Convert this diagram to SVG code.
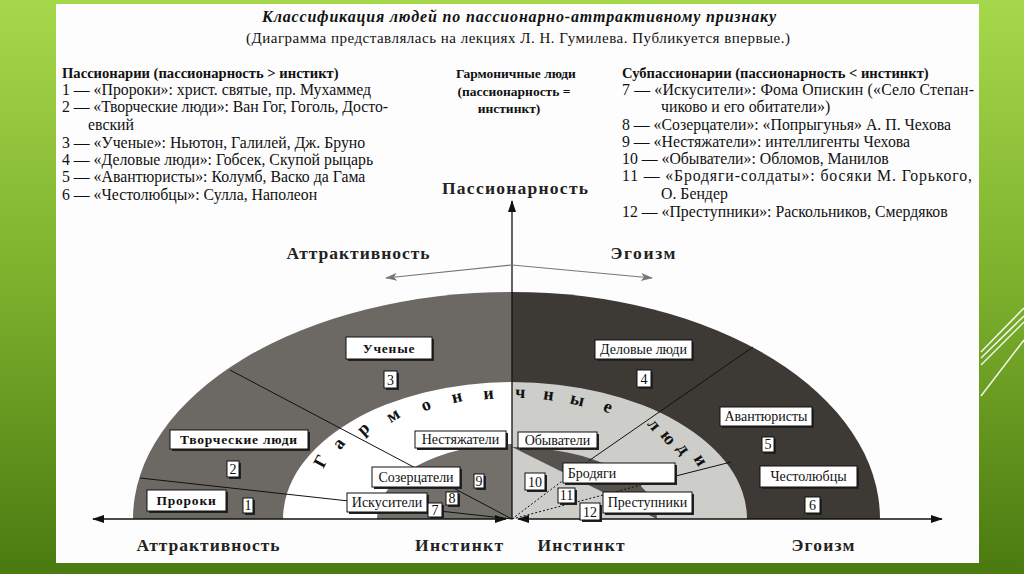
<svg xmlns="http://www.w3.org/2000/svg" width="1024" height="574" viewBox="0 0 1024 574">
<defs>
<linearGradient id="bg" x1="0" y1="0" x2="0" y2="1">
<stop offset="0" stop-color="#a6d84b"/>
<stop offset="0.5" stop-color="#7cb02c"/>
<stop offset="1" stop-color="#4a7a10"/>
</linearGradient>
<marker id="ah" viewBox="0 0 12 8" refX="11" refY="4" markerWidth="12" markerHeight="8" markerUnits="userSpaceOnUse" orient="auto-start-reverse">
<path d="M0,0 L12,4 L0,8 Z" fill="#111"/>
</marker>
<marker id="ahg" viewBox="0 0 12 8" refX="11" refY="4" markerWidth="13" markerHeight="8" markerUnits="userSpaceOnUse" orient="auto">
<path d="M0,0 L12,4 L0,8 L3,4 Z" fill="#777"/>
</marker>
<style>
.t{font-family:"Liberation Serif","Times New Roman",serif;fill:#111}
.h{font-weight:bold}
.it{font-size:15.8px}
.hd{font-size:14.6px;font-weight:bold}
.ax{font-family:"Liberation Serif","Times New Roman",serif;font-size:17.5px;font-weight:bold;fill:#222}
.bx{fill:#fff;stroke:#111;stroke-width:1}
.sh{fill:#222}
.bt{font-family:"Liberation Serif","Times New Roman",serif;font-size:14px;fill:#111;text-anchor:middle}
.bb{font-weight:bold;font-size:13.5px;letter-spacing:0.8px}
.gl{font-family:"Liberation Serif","Times New Roman",serif;font-size:18px;font-weight:bold;fill:#111;text-anchor:middle}
.dv{stroke:#111;stroke-width:1;fill:none}
.dt{stroke:#111;stroke-width:1;fill:none;stroke-dasharray:2 2}
.axl{stroke:#111;stroke-width:1.3;fill:none}
.gr{stroke:#777;stroke-width:1.2;fill:none}
</style>
</defs>
<rect x="0" y="0" width="1024" height="574" fill="url(#bg)"/>
<g stroke="#fff" stroke-width="1.5" fill="none" opacity="0.9">
<line x1="981" y1="352" x2="1024" y2="308"/>
<line x1="981" y1="358" x2="1024" y2="316"/>
<line x1="981" y1="365" x2="1024" y2="322"/>
<line x1="981" y1="396" x2="1024" y2="340"/>
</g>
<rect x="56" y="4" width="923" height="559" fill="#fdfdfd"/>

<g id="header">
<text class="t h" x="519" y="22" font-size="16" font-style="italic" text-anchor="middle" textLength="514" lengthAdjust="spacing">Классификация людей по пассионарно-аттрактивному признаку</text>
<text class="t" x="518" y="43" font-size="15" text-anchor="middle" textLength="544" lengthAdjust="spacing">(Диаграмма представлялась на лекциях Л. Н. Гумилева. Публикуется впервые.)</text>
</g>

<g id="legend-left" class="t it">
<text class="hd" x="62" y="78">Пассионарии (пассионарность &gt; инстикт)</text>
<text x="62" y="95">1 — «Пророки»: христ. святые, пр. Мухаммед</text>
<text x="62" y="112" textLength="326" lengthAdjust="spacing">2 — «Творческие люди»: Ван Гог, Гоголь, Досто-</text>
<text x="88" y="130">евский</text>
<text x="62" y="148">3 — «Ученые»: Ньютон, Галилей, Дж. Бруно</text>
<text x="62" y="165">4 — «Деловые люди»: Гобсек, Скупой рыцарь</text>
<text x="62" y="182">5 — «Авантюристы»: Колумб, Васко да Гама</text>
<text x="62" y="200">6 — «Честолюбцы»: Сулла, Наполеон</text>
</g>

<g id="legend-middle" class="t h" font-size="13.5" text-anchor="middle">
<text x="516" y="78">Гармоничные люди</text>
<text x="514" y="96">(пассионарность =</text>
<text x="509" y="113">инстинкт)</text>
</g>

<g id="legend-right" class="t it">
<text class="hd" x="622" y="78">Субпассионарии (пассионарность &lt; инстинкт)</text>
<text x="622" y="95" textLength="352" lengthAdjust="spacing">7 — «Искусители»: Фома Опискин («Село Степан-</text>
<text x="661" y="112">чиково и его обитатели»)</text>
<text x="622" y="130">8 — «Созерцатели»: «Попрыгунья» А. П. Чехова</text>
<text x="622" y="147">9 — «Нестяжатели»: интеллигенты Чехова</text>
<text x="622" y="164">10 — «Обыватели»: Обломов, Манилов</text>
<text x="622" y="181" textLength="350" lengthAdjust="spacing">11 — «Бродяги-солдаты»: босяки М. Горького,</text>
<text x="661" y="199">О. Бендер</text>
<text x="622" y="217">12 — «Преступники»: Раскольников, Смердяков</text>
</g>

<g id="regions">
<path d="M133 519 A379 227 0 0 1 512 292 L512 519 Z" fill="#6c6864"/>
<path d="M512 292 A368 227 0 0 1 880 519 L512 519 Z" fill="#3d3935"/>
<path d="M283 519 A229 137 0 0 1 512 382 L512 519 Z" fill="#ffffff"/>
<path d="M512 382 A235 137 0 0 1 747 519 L512 519 Z" fill="#cdcdca"/>
<path d="M377 519 A135 75 0 0 1 512 444 L512 519 Z" fill="#73706c"/>
<path d="M512 447 A145 72 0 0 1 657 519 Z" fill="#56524e"/>
</g>

<g id="band-label">
<text class="gl" transform="translate(326,464) rotate(-62)">Г</text>
<text class="gl" transform="translate(343,447) rotate(-52)">а</text>
<text class="gl" transform="translate(367,433) rotate(-42)">р</text>
<text class="gl" transform="translate(396,420) rotate(-32)">м</text>
<text class="gl" transform="translate(428,410) rotate(-22)">о</text>
<text class="gl" transform="translate(458,402) rotate(-13)">н</text>
<text class="gl" transform="translate(489,399) rotate(-5)">и</text>
<text class="gl" transform="translate(520,398) rotate(2)">ч</text>
<text class="gl" transform="translate(548,400) rotate(8)">н</text>
<text class="gl" transform="translate(576,405) rotate(14)">ы</text>
<text class="gl" transform="translate(606,412) rotate(22)">е</text>
<text class="gl" transform="translate(650,428) rotate(50)">л</text>
<text class="gl" transform="translate(664,441) rotate(52)">ю</text>
<text class="gl" transform="translate(679,452) rotate(55)">д</text>
<text class="gl" transform="translate(696,463) rotate(58)">и</text>
</g>

<g id="connectors">
<line class="dv" x1="512" y1="519" x2="230" y2="370"/>
<line class="dv" x1="512" y1="519" x2="140" y2="478"/>
<line class="dt" x1="512" y1="519" x2="590" y2="460"/>
<line class="dv" x1="590" y1="460" x2="753" y2="347" stroke="#222"/>
<line class="dt" x1="512" y1="519" x2="660" y2="480"/>
<line class="dv" x1="660" y1="480" x2="731" y2="462"/>
<line class="axl" x1="512" y1="519" x2="512" y2="201" marker-end="url(#ah)"/>
<line class="axl" x1="93" y1="519" x2="506" y2="519" marker-start="url(#ah)" marker-end="url(#ah)"/>
<line class="axl" x1="518" y1="519" x2="942" y2="519" marker-start="url(#ah)" marker-end="url(#ah)"/>
<line class="gr" x1="512" y1="265" x2="386" y2="278" marker-end="url(#ahg)"/>
<line class="gr" x1="512" y1="265" x2="652" y2="278" marker-end="url(#ahg)"/>
</g>

<g id="axis-labels">
<text class="ax" x="515" y="194" text-anchor="middle" textLength="146" lengthAdjust="spacing">Пассионарность</text>
<text class="ax" x="358" y="259" text-anchor="middle" textLength="143" lengthAdjust="spacing">Аттрактивность</text>
<text class="ax" x="643" y="259" text-anchor="middle" textLength="65" lengthAdjust="spacing">Эгоизм</text>
<text class="ax" x="208" y="551" text-anchor="middle" textLength="143" lengthAdjust="spacing">Аттрактивность</text>
<text class="ax" x="459" y="551" text-anchor="middle" textLength="88" lengthAdjust="spacing">Инстинкт</text>
<text class="ax" x="581" y="551" text-anchor="middle" textLength="87" lengthAdjust="spacing">Инстинкт</text>
<text class="ax" x="823" y="551" text-anchor="middle" textLength="63" lengthAdjust="spacing">Эгоизм</text>
</g>

<g id="n-uchenye"><rect class="sh" x="348" y="339" width="86" height="22"/><rect class="bx" x="346" y="337" width="86" height="22"/><text class="bt bb" x="389" y="353">Ученые</text></g>
<g id="n-3"><rect class="sh" x="386" y="373" width="13" height="17"/><rect class="bx" x="384" y="371" width="13" height="17"/><text class="bt" x="390.5" y="385">3</text></g>
<g id="n-tvorcheskie"><rect class="sh" x="172" y="432" width="138" height="19"/><rect class="bx" x="170" y="430" width="138" height="19"/><text class="bt bb" x="239" y="444">Творческие люди</text></g>
<g id="n-2"><rect class="sh" x="229" y="463" width="12" height="16"/><rect class="bx" x="227" y="461" width="12" height="16"/><text class="bt" x="233" y="474">2</text></g>
<g id="n-proroki"><rect class="sh" x="149" y="492" width="79" height="21"/><rect class="bx" x="147" y="490" width="79" height="21"/><text class="bt bb" x="186.5" y="505">Пророки</text></g>
<g id="n-1"><rect class="sh" x="245" y="500" width="10" height="15"/><rect class="bx" x="243" y="498" width="10" height="15"/><text class="bt" x="248" y="510">1</text></g>
<g id="n-delovye"><rect class="sh" x="597" y="342" width="97" height="19"/><rect class="bx" x="595" y="340" width="97" height="19"/><text class="bt" x="643.5" y="354">Деловые люди</text></g>
<g id="n-4"><rect class="sh" x="639" y="372" width="14" height="17"/><rect class="bx" x="637" y="370" width="14" height="17"/><text class="bt" x="644" y="384">4</text></g>
<g id="n-avantyuristy"><rect class="sh" x="722" y="409" width="92" height="19"/><rect class="bx" x="720" y="407" width="92" height="19"/><text class="bt" x="766" y="421">Авантюристы</text></g>
<g id="n-5"><rect class="sh" x="764" y="439" width="12" height="15"/><rect class="bx" x="762" y="437" width="12" height="15"/><text class="bt" x="768" y="449">5</text></g>
<g id="n-chestolyubtsy"><rect class="sh" x="762" y="468" width="97" height="21"/><rect class="bx" x="760" y="466" width="97" height="21"/><text class="bt" x="808.5" y="481">Честолюбцы</text></g>
<g id="n-6"><rect class="sh" x="807" y="499" width="15" height="16"/><rect class="bx" x="805" y="497" width="15" height="16"/><text class="bt" x="812.5" y="510">6</text></g>
<g id="n-nestyazhateli"><rect class="sh" x="417" y="433" width="91" height="17"/><rect class="bx" x="415" y="431" width="91" height="17"/><text class="bt" x="460.5" y="444">Нестяжатели</text></g>
<g id="n-obyvateli"><rect class="sh" x="520" y="434" width="79" height="16"/><rect class="bx" x="518" y="432" width="79" height="16"/><text class="bt" x="557.5" y="445">Обыватели</text></g>
<g id="n-sozertsateli"><rect class="sh" x="374" y="469" width="88" height="20"/><rect class="bx" x="372" y="467" width="88" height="20"/><text class="bt" x="416" y="482">Созерцатели</text></g>
<g id="n-9"><rect class="sh" x="476" y="476" width="10" height="14"/><rect class="bx" x="474" y="474" width="10" height="14"/><text class="bt" x="479" y="486">9</text></g>
<g id="n-8"><rect class="sh" x="448" y="494" width="12" height="13"/><rect class="bx" x="446" y="492" width="12" height="13"/><text class="bt" x="452" y="503">8</text></g>
<g id="n-iskusiteli"><rect class="sh" x="349" y="495" width="80" height="19"/><rect class="bx" x="347" y="493" width="80" height="19"/><text class="bt" x="387" y="507">Искусители</text></g>
<g id="n-7"><rect class="sh" x="430" y="505" width="14" height="14"/><rect class="bx" x="428" y="503" width="14" height="14"/><text class="bt" x="435" y="515">7</text></g>
<g id="n-10"><rect class="sh" x="527" y="475" width="20" height="17"/><rect class="bx" x="525" y="473" width="20" height="17"/><text class="bt" x="535" y="487">10</text></g>
<g id="n-brodyagi"><rect class="sh" x="565" y="465" width="112" height="20"/><rect class="bx" x="563" y="463" width="112" height="20"/><text class="bt" x="592" y="478">Бродяги</text></g>
<g id="n-11"><rect class="sh" x="560" y="490" width="17" height="15"/><rect class="bx" x="558" y="488" width="17" height="15"/><text class="bt" x="566.5" y="500">11</text></g>
<g id="n-12"><rect class="sh" x="582" y="505" width="20" height="17"/><rect class="bx" x="580" y="503" width="20" height="17"/><text class="bt" x="590" y="517">12</text></g>
<g id="n-prestupniki"><rect class="sh" x="605" y="494" width="89" height="21"/><rect class="bx" x="603" y="492" width="89" height="21"/><text class="bt" x="647.5" y="507">Преступники</text></g>
</svg>
